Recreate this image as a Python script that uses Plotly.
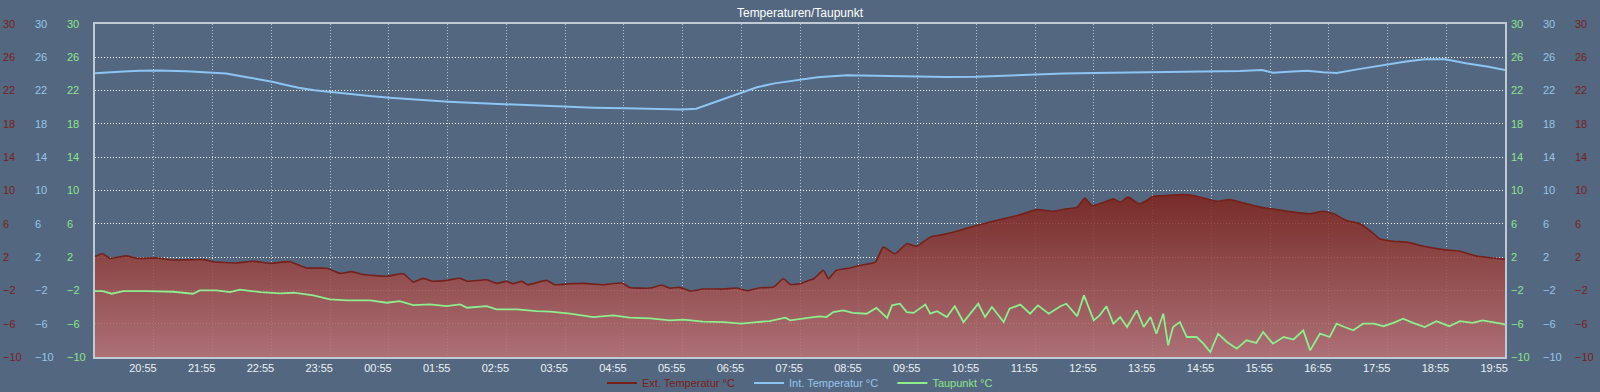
import plotly.graph_objects as go
from datetime import datetime, timedelta

# ---------------- data ----------------
tick_labels = ["20:55", "21:55", "22:55", "23:55", "00:55", "01:55", "02:55", "03:55",
               "04:55", "05:55", "06:55", "07:55", "08:55", "09:55", "10:55", "11:55",
               "12:55", "13:55", "14:55", "15:55", "16:55", "17:55", "18:55", "19:55"]
grid_start = "21:06"
x_window = ["20:06", "20:06"]

y_ticks = [-10, -6, -2, 2, 6, 10, 14, 18, 22, 26, 30]

ext_t = ["20:06", "20:14", "20:21", "20:38", "20:49", "21:09", "21:26", "21:57", "22:07", "22:31",
         "22:47", "23:05", "23:25", "23:42", "00:03", "00:16", "00:28", "00:40", "01:04", "01:21",
         "01:31", "01:41", "01:51", "02:05", "02:19", "02:26", "02:46", "02:56", "03:06", "03:13",
         "03:22", "03:28", "03:47", "03:56", "04:11", "04:26", "04:45", "05:04", "05:12", "05:33",
         "05:45", "05:53", "06:03", "06:14", "06:27", "06:48", "07:01", "07:12", "07:25", "07:39",
         "07:49", "07:56", "08:06", "08:16", "08:20", "08:30", "08:35", "08:43", "08:57", "09:07",
         "09:23", "09:31", "09:43", "09:55", "10:05", "10:19", "10:32", "10:49", "11:03", "11:20",
         "11:37", "11:51", "12:08", "12:25", "12:38", "12:49", "12:57", "13:04", "13:19", "13:26",
         "13:33", "13:41", "13:53", "14:07", "14:20", "14:37", "14:48", "15:01", "15:12", "15:25",
         "15:39", "15:56", "16:13", "16:30", "16:47", "17:00", "17:11", "17:24", "17:38", "17:52",
         "17:58", "18:12", "18:26", "18:43", "19:03", "19:20", "19:38", "20:02", "20:06"]
ext_v = [2.1, 2.4, 1.85, 2.15, 1.85, 1.9, 1.65, 1.7, 1.45, 1.3,
         1.5, 1.25, 1.45, 0.7, 0.65, 0.05, 0.25, -0.1, -0.3, 0.0,
         -1.0, -0.55, -0.9, -0.8, -0.55, -0.9, -0.72, -1.16, -0.92, -1.2,
         -0.92, -1.32, -0.8, -1.32, -1.2, -1.16, -1.32, -1.12, -1.64, -1.72,
         -1.36, -1.72, -1.64, -2.08, -1.84, -1.84, -1.72, -2.04, -1.68, -1.6,
         -0.6, -1.28, -1.2, -0.76, -0.6, 0.4, -0.6, 0.4, 0.7, 1.0,
         1.4, 3.2, 2.4, 3.6, 3.3, 4.4, 4.7, 5.2, 5.7, 6.2,
         6.7, 7.1, 7.7, 7.5, 7.8, 8.0, 9.1, 8.2, 8.7, 9.0,
         8.6, 9.2, 8.4, 9.3, 9.4, 9.5, 9.4, 9.0, 8.7, 8.9,
         8.5, 8.0, 7.7, 7.4, 7.2, 7.5, 7.2, 6.4, 6.0, 4.8,
         4.2, 3.9, 3.8, 3.3, 2.9, 2.7, 2.1, 1.8, 1.75]

int_t = ["20:06", "20:20", "20:35", "20:52", "21:10", "21:39", "22:06", "22:20", "22:34", "22:50",
         "23:07", "23:20", "23:34", "23:50", "00:07", "00:25", "00:44", "01:07", "01:35", "02:07",
         "02:35", "03:07", "03:35", "04:07", "04:35", "05:08", "05:35", "06:05", "06:20", "06:45",
         "07:07", "07:22", "07:40", "08:12", "08:24", "08:54", "09:12", "09:33", "10:06", "10:35",
         "11:06", "11:35", "12:06", "12:35", "13:06", "13:35", "14:07", "14:35", "15:07", "15:35",
         "15:58", "16:09", "16:25", "16:44", "17:00", "17:14", "17:35", "17:50", "18:07", "18:25",
         "18:44", "19:05", "19:26", "19:49", "20:06"]
int_v = [24.07, 24.2, 24.3, 24.39, 24.4, 24.31, 24.19, 24.05, 23.75, 23.45,
         23.07, 22.7, 22.35, 22.05, 21.83, 21.6, 21.39, 21.15, 20.9, 20.67,
         20.5, 20.35, 20.2, 20.07, 19.95, 19.87, 19.8, 19.72, 19.83, 20.87,
         21.87, 22.4, 22.87, 23.45, 23.6, 23.84, 23.8, 23.75, 23.6, 23.62,
         23.67, 23.8, 23.95, 24.05, 24.11, 24.15, 24.19, 24.22, 24.27, 24.35,
         24.47, 24.15, 24.25, 24.39, 24.2, 24.11, 24.55, 24.85, 25.2, 25.5,
         25.76, 25.76, 25.28, 24.87, 24.47]

dew_t = ["20:06", "20:14", "20:23", "20:35", "20:59", "21:26", "21:46", "21:53", "22:10", "22:24",
         "22:34", "22:55", "23:15", "23:29", "23:49", "00:06", "00:23", "00:47", "01:04", "01:17",
         "01:31", "01:48", "02:05", "02:19", "02:26", "02:46", "02:56", "03:17", "03:37", "03:51",
         "04:11", "04:35", "04:55", "05:12", "05:33", "05:53", "06:07", "06:27", "06:48", "07:06",
         "07:22", "07:35", "07:51", "07:56", "08:16", "08:26", "08:33", "08:40", "08:50", "09:00",
         "09:14", "09:24", "09:35", "09:40", "09:48", "09:55", "10:02", "10:14", "10:19", "10:26",
         "10:36", "10:44", "10:53", "11:01", "11:08", "11:15", "11:22", "11:34", "11:40", "11:51",
         "12:01", "12:09", "12:20", "12:32", "12:38", "12:49", "12:56", "13:06", "13:12", "13:19",
         "13:26", "13:33", "13:40", "13:50", "13:57", "14:04", "14:10", "14:17", "14:22", "14:27",
         "14:34", "14:41", "14:51", "14:58", "15:05", "15:13", "15:22", "15:32", "15:42", "15:52",
         "15:59", "16:09", "16:20", "16:30", "16:40", "16:47", "16:57", "17:07", "17:14", "17:22",
         "17:31", "17:41", "17:52", "18:02", "18:12", "18:22", "18:32", "18:44", "18:56", "19:09",
         "19:20", "19:33", "19:43", "20:02", "20:06"]
dew_v = [-2.08, -2.08, -2.4, -2.08, -2.08, -2.16, -2.4, -2.0, -2.0, -2.2,
         -1.92, -2.2, -2.36, -2.28, -2.6, -3.08, -3.2, -3.2, -3.48, -3.28,
         -3.76, -3.68, -3.88, -3.68, -4.08, -3.88, -4.28, -4.28, -4.48, -4.56,
         -4.8, -5.2, -5.0, -5.28, -5.36, -5.6, -5.52, -5.76, -5.8, -6.0,
         -5.8, -5.68, -5.28, -5.6, -5.28, -5.13, -5.2, -4.6, -4.4, -4.7,
         -4.8, -4.1, -5.3, -3.8, -3.6, -4.6, -4.7, -3.7, -4.8, -4.5,
         -5.2, -3.9, -5.8, -4.6, -3.6, -5.2, -4.0, -5.8, -4.2, -3.7,
         -4.8, -3.8, -4.8, -3.9, -3.6, -5.1, -2.6, -5.6, -5.0, -3.9,
         -6.0, -5.2, -6.4, -4.4, -6.4, -5.2, -7.2, -4.8, -8.6, -6.4,
         -5.8, -7.6, -7.6, -8.4, -9.4, -7.2, -8.2, -9.0, -8.0, -8.3,
         -7.0, -8.4, -7.6, -7.9, -6.8, -9.2, -7.2, -7.6, -6.0, -6.4,
         -6.8, -6.0, -6.0, -6.3, -5.9, -5.4, -5.9, -6.4, -5.7, -6.3,
         -5.7, -5.9, -5.6, -6.0, -6.1]

assert len(ext_t) == len(ext_v) and len(int_t) == len(int_v) and len(dew_t) == len(dew_v)

# ---------------- helpers ----------------
BASE = datetime(2024, 5, 1)


def to_dt(times, first_day_start=20 * 60 + 6):
    out, day, prev = [], 0, None
    for t in times:
        h, m = map(int, t.split(":"))
        mins = h * 60 + m
        if prev is None:
            if mins < first_day_start:
                day = 1
        elif mins < prev:
            day += 1
        prev = mins
        out.append(BASE + timedelta(days=day, minutes=mins))
    return out


x_start = to_dt([x_window[0]])[0]
x_end = x_start + timedelta(hours=24)
grid0 = to_dt([grid_start])[0]
tick_dt = to_dt(tick_labels)
ext_dt = to_dt(ext_t)
int_dt = to_dt(int_t)
dew_dt = to_dt(dew_t)

# ---------------- styling ----------------
W, H = 1600, 392
PX0, PX1, PY0, PY1 = 95, 1505, 24, 357
BG = "rgb(83,104,128)"
BORDER = "rgb(192,201,212)"
RED_LINE = "rgb(118,32,26)"
RED_TXT = "rgb(122,32,28)"
BLUE = "rgb(140,196,244)"
BLUE_TXT = "rgb(150,196,236)"
GREEN = "rgb(142,238,142)"
GREEN_TXT = "rgb(140,228,140)"
FONT = "Liberation Sans, Arial, sans-serif"
DOTS = "1px,2px"
PAD = "&nbsp;" * 3

fig = go.Figure()

# baseline at the axis minimum, so the area reaches the bottom of the plot
fig.add_trace(go.Scatter(x=[x_start, x_end], y=[y_ticks[0], y_ticks[0]], mode="lines",
                         line=dict(width=0), showlegend=False, hoverinfo="skip"))
fig.add_trace(go.Scatter(
    x=ext_dt, y=ext_v, mode="lines", line=dict(color=RED_LINE, width=1.6, shape="spline", smoothing=0.5),
    fill="tonexty",
    fillgradient=dict(type="vertical", start=-10, stop=10,
                      colorscale=[[0, "rgba(188,113,116,0.85)"], [1, "rgba(124,31,22,0.85)"]]),
    showlegend=False))
fig.add_trace(go.Scatter(
    x=dew_dt, y=dew_v, mode="lines", line=dict(color=GREEN, width=1.8), showlegend=False))
fig.add_trace(go.Scatter(
    x=int_dt, y=int_v, mode="lines", line=dict(color=BLUE, width=2), showlegend=False))

# legend entries (line symbols)
for nm, lc, tc, pad in [("Ext. Temperatur °C", RED_LINE, RED_TXT, PAD),
                        ("Int. Temperatur °C", BLUE, BLUE_TXT, PAD),
                        ("Taupunkt °C", GREEN, GREEN_TXT, "")]:
    fig.add_trace(go.Scatter(x=[None], y=[None], mode="lines", line=dict(color=lc, width=2),
                             name=f"<span style='color:{tc}'>{nm}</span>{pad}"))

layout = dict(
    width=W, height=H, margin=dict(l=0, r=0, t=0, b=0, autoexpand=False),
    paper_bgcolor=BG, plot_bgcolor=BG,
    font=dict(family=FONT, size=11, color="white"),
    hovermode=False,
    title=dict(text="Temperaturen/Taupunkt", x=0.5, xanchor="center",
               y=1 - 13 / H, yanchor="middle", font=dict(size=12, color="white")),
    legend=dict(orientation="h", x=0.5, xanchor="center", y=(H - 383) / H, yanchor="middle",
                bgcolor="rgba(0,0,0,0)", itemwidth=30, font=dict(size=11), traceorder="normal"),
    xaxis=dict(
        domain=[PX0 / W, PX1 / W], type="date", range=[x_start, x_end],
        tickvals=tick_dt, tickformat="%H:%M", ticks="", showgrid=False, zeroline=False,
        showline=True, mirror=True, linecolor=BORDER, linewidth=2,
        tickfont=dict(size=11, color="rgb(236,240,244)"),
        minor=dict(tick0=grid0, dtick=3600000, showgrid=True, griddash=DOTS,
                   gridcolor="rgba(255,255,255,0.6)", gridwidth=1, ticks=""),
    ),
    yaxis=dict(
        domain=[1 - PY1 / H, 1 - PY0 / H], range=[-10, 30], tickvals=y_ticks,
        showticklabels=False, ticks="", showgrid=True, griddash=DOTS,
        gridcolor="rgba(255,255,255,0.95)", gridwidth=1, zeroline=False,
        showline=True, mirror=True, linecolor=BORDER, linewidth=2,
    ),
)

label_cols = [(4, RED_TXT), (36, BLUE_TXT), (68, GREEN_TXT),
              (1512, GREEN_TXT), (1544, BLUE_TXT), (1576, RED_TXT)]
for i, (px, col) in enumerate(label_cols):
    ax = f"y{i + 2}"
    layout[f"yaxis{i + 2}"] = dict(
        overlaying="y", anchor="free", side="right", position=(px - 2) / W,
        range=[-10, 30], tickvals=y_ticks, showgrid=False, zeroline=False,
        showline=False, ticks="", tickfont=dict(size=11, color=col))
    # invisible anchor trace so the label axis is drawn
    fig.add_trace(go.Scatter(x=[x_start, x_end], y=[y_ticks[0], y_ticks[-1]], yaxis=ax,
                             mode="markers", marker=dict(opacity=0), showlegend=False,
                             hoverinfo="skip"))

fig.update_layout(**layout)

fig.write_html("out.html", config={"displayModeBar": False},
               post_script="document.body.style.margin='0';document.body.style.overflow='hidden';")
